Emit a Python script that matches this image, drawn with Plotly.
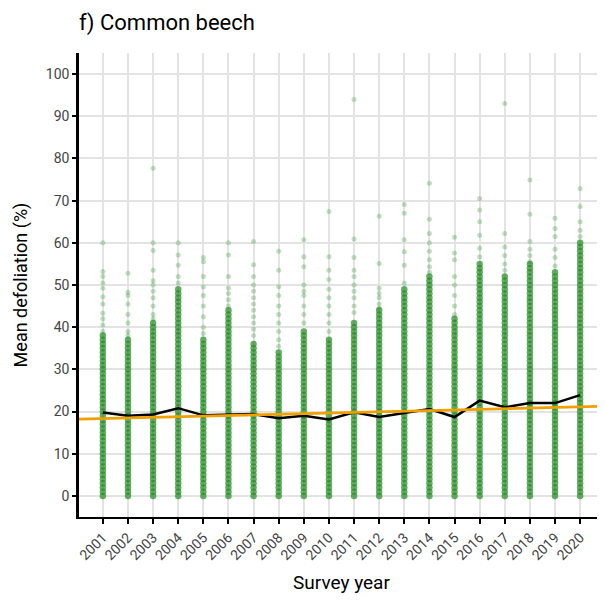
import plotly.graph_objects as go

years = [2001, 2002, 2003, 2004, 2005, 2006, 2007, 2008, 2009, 2010,
         2011, 2012, 2013, 2014, 2015, 2016, 2017, 2018, 2019, 2020]

# yearly mean defoliation (black line)
mean_defol = [19.8, 19.0, 19.3, 20.8, 19.1, 19.3, 19.4, 18.4, 19.0, 18.1,
              19.8, 18.7, 19.7, 20.6, 18.7, 22.6, 21.0, 22.0, 22.0, 23.9]

# linear trend (orange line), values at the two ends of the x axis
trend_years = [2000.05, 2020.95]
trend_values = [18.2, 21.25]

# upper limit of the densely filled part of each year's column
core_top = [38, 37, 41, 49, 37, 44, 36.5, 34, 39, 37,
            41, 44, 49, 52, 42, 55, 52, 55, 53, 60]

# defoliation levels making up the dense part of the columns
defol_levels = [0, 1, 2, 3, 4, 5, 6, 7, 8, 9, 10, 11, 12, 13, 14, 15, 16, 17, 18, 19,
                20, 21, 22, 23, 24, 25, 26, 27, 28, 29, 30, 31, 32, 33, 34, 35, 36, 37,
                38, 39, 40, 41, 42, 43, 44, 45, 46, 47, 48, 49, 50, 51, 52, 53, 54, 55,
                56, 57, 58, 59, 60]

# sparse plots above the dense part, per year
sparse_values = [
    [60, 53.2, 52, 50.5, 49.2, 47.2, 45.5, 43.3, 42, 40.5, 39],
    [52.8, 48.3, 47.5, 45.5, 43, 41, 39, 38],
    [77.7, 60, 58.2, 53.5, 51, 50, 48.5, 47, 45, 43, 42],
    [60, 57.1, 54.7, 52, 50.5],
    [56.5, 55.5, 52, 49.5, 47.5, 45, 42.5, 40, 38.5],
    [60, 57.1, 52, 49.3, 48, 46.5, 45],
    [60.3, 54.8, 52, 50, 48.5, 47, 45.5, 44, 42.5, 41, 39.5, 38],
    [58, 53.5, 49.6, 47.5, 45, 43, 41, 39, 37, 35.5],
    [60.7, 56.7, 54.3, 50, 48.5, 47.5, 45, 43, 41],
    [67.4, 56.7, 53.5, 51.3, 49, 47, 45, 43, 41, 39],
    [94, 60.9, 56.5, 53.5, 52, 50, 48.5, 47, 45, 43.5],
    [66.3, 55.1, 49.2, 48, 47, 45.5, 44.5],
    [69.1, 67, 60.7, 57.9, 54.7, 50.4],
    [74.1, 65.6, 62.2, 60, 58, 56, 54.3, 53],
    [61.3, 57.6, 56, 52, 50, 47.5, 45, 43],
    [70.5, 67.8, 65, 61.8, 58.7, 56.7],
    [93, 62.2, 59, 57, 55, 53.5],
    [74.9, 66.8, 60.3, 58.5, 57, 55.5],
    [65.8, 63.4, 61.5, 58.5, 56.5, 54.5],
    [72.9, 68.6, 65, 63, 61.5],
]

y_ticks = [0, 10, 20, 30, 40, 50, 60, 70, 80, 90, 100]

FONT = "Roboto, Liberation Sans, sans-serif"
GREEN = "rgb(34,139,34)"

core_x, core_y = [], []
for yr, top in zip(years, core_top):
    for v in defol_levels:
        if v <= top:
            core_x.append(yr)
            core_y.append(v)

sp_x, sp_y = [], []
for yr, vals in zip(years, sparse_values):
    for v in vals:
        sp_x.append(yr)
        sp_y.append(v)

W, H = 597, 592  # page body adds an 8 px offset

fig = go.Figure()
fig.add_trace(go.Scatter(x=sp_x, y=sp_y, mode="markers",
                         marker=dict(color=GREEN, size=5, opacity=0.28, line=dict(width=0)),
                         showlegend=False))
fig.add_trace(go.Scatter(x=core_x, y=core_y, mode="markers",
                         marker=dict(color=GREEN, size=6.5, opacity=0.7, line=dict(width=0)),
                         showlegend=False))
fig.add_trace(go.Scatter(x=years, y=mean_defol, mode="lines",
                         line=dict(color="black", width=2.5), showlegend=False))
fig.add_trace(go.Scatter(x=trend_years, y=trend_values, mode="lines",
                         line=dict(color="#F0A000", width=2.8), showlegend=False))

fig.update_layout(
    width=W, height=H,
    margin=dict(l=71, r=1, t=45, b=83),
    plot_bgcolor="white", paper_bgcolor="white",
    font=dict(family=FONT, color="#333333"),
    title=dict(text="f) Common beech", x=0, xref="paper", xanchor="left",
               y=1 - 14 / H, yref="container", yanchor="middle",
               font=dict(family=FONT, size=22, color="black")),
)
fig.update_xaxes(
    range=[2000.05, 2020.95], tickmode="array", tickvals=years,
    ticktext=[str(y) for y in years], tickangle=-45,
    tickfont=dict(family=FONT, size=14, color="#444444"),
    showgrid=True, gridcolor="#E3E3E3", gridwidth=1.6,
    showline=True, linecolor="black", linewidth=2,
    ticks="outside", ticklen=5, tickwidth=1.5, tickcolor="black",
    zeroline=False, automargin=False,
    title=dict(text="Survey year", font=dict(family=FONT, size=19, color="black"), standoff=14),
)
fig.update_yaxes(
    range=[-5, 105], tickmode="array", tickvals=y_ticks,
    ticktext=[str(v) for v in y_ticks],
    tickfont=dict(family=FONT, size=14, color="#444444"),
    showgrid=True, gridcolor="#E3E3E3", gridwidth=1.6,
    showline=True, linecolor="black", linewidth=2.5,
    ticks="outside", ticklen=4, tickwidth=1.5, tickcolor="black",
    zeroline=False, automargin=False,
    title=dict(text="Mean defoliation (%)", font=dict(family=FONT, size=18, color="black"), standoff=14),
)

fig.write_html("out.html")
